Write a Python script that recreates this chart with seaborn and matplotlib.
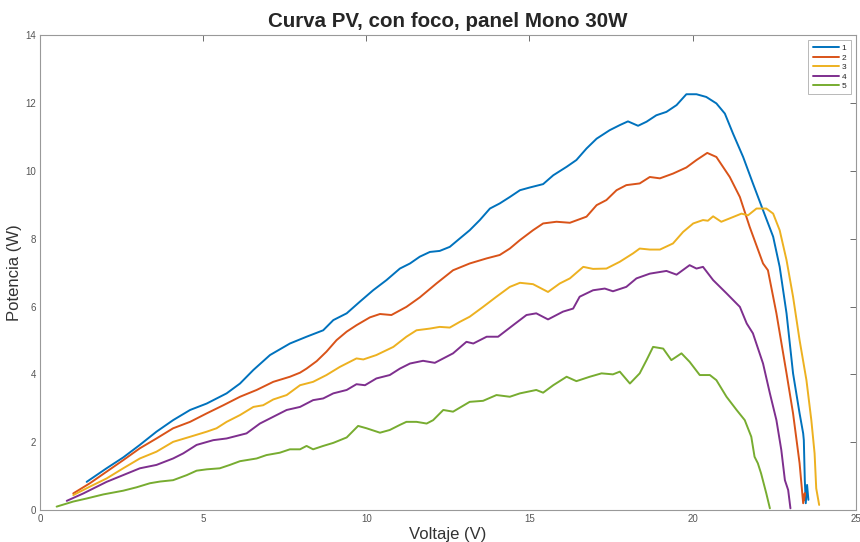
import pandas as pd
import numpy as np
import matplotlib
matplotlib.use("Agg")
import matplotlib.pyplot as plt
import seaborn as sns

# Curve values (voltage V, power W)
v1 = [1.43, 2.04, 2.55, 3.06, 3.57, 4.08, 4.60, 5.11, 5.72, 6.13, 6.54, 7.05, 7.66, 8.17, 8.68, 8.99,
      9.40, 9.80, 10.21, 10.62, 11.03, 11.34, 11.64, 11.95, 12.25, 12.56, 12.87, 13.17, 13.48, 13.79,
      14.09, 14.40, 14.71, 15.01, 15.42, 15.73, 16.14, 16.44, 16.75, 17.06, 17.46, 17.77, 18.02, 18.33,
      18.59, 18.89, 19.20, 19.51, 19.81, 20.12, 20.42, 20.73, 20.99, 21.24, 21.55, 21.85, 22.16, 22.47,
      22.67, 22.88, 23.08, 23.28, 23.39, 23.41, 23.44, 23.47, 23.51, 23.55]
p1 = [0.83, 1.23, 1.55, 1.92, 2.31, 2.65, 2.95, 3.14, 3.44, 3.73, 4.13, 4.57, 4.91, 5.11, 5.30, 5.60,
      5.80, 6.14, 6.48, 6.78, 7.12, 7.27, 7.47, 7.61, 7.64, 7.76, 8.01, 8.25, 8.55, 8.89,
      9.04, 9.23, 9.43, 9.51, 9.61, 9.87, 10.12, 10.32, 10.66, 10.95, 11.20, 11.35, 11.46, 11.33,
      11.45, 11.64, 11.74, 11.94, 12.26, 12.26, 12.18, 11.99, 11.69, 11.10, 10.41, 9.63, 8.84, 8.06,
      7.17, 5.80, 4.03, 2.85, 2.26, 2.06, 0.88, 0.20, 0.74, 0.30]

v2 = [1.02, 1.53, 2.04, 2.55, 3.06, 3.57, 4.08, 4.60, 5.11, 5.62, 6.13, 6.64, 7.15, 7.66, 7.97, 8.17,
      8.48, 8.78, 9.09, 9.40, 9.70, 10.11, 10.42, 10.77, 11.23, 11.64, 12.15, 12.66, 13.17, 13.69,
      14.09, 14.40, 14.71, 15.11, 15.42, 15.83, 16.24, 16.75, 17.06, 17.36, 17.67, 17.97, 18.38, 18.69,
      19.00, 19.40, 19.81, 20.12, 20.45, 20.73, 21.14, 21.45, 21.75, 22.16, 22.31, 22.57, 22.88, 23.08,
      23.28, 23.39, 23.44, 23.42]
p2 = [0.49, 0.79, 1.13, 1.47, 1.82, 2.11, 2.41, 2.60, 2.85, 3.09, 3.34, 3.54, 3.78, 3.93, 4.05, 4.17,
      4.39, 4.67, 5.01, 5.26, 5.45, 5.68, 5.78, 5.75, 5.99, 6.27, 6.68, 7.07, 7.27, 7.42,
      7.52, 7.71, 7.96, 8.25, 8.45, 8.50, 8.47, 8.65, 8.99, 9.14, 9.43, 9.58, 9.63, 9.82,
      9.78, 9.92, 10.10, 10.32, 10.53, 10.41, 9.82, 9.23, 8.35, 7.27, 7.07, 5.80, 4.03, 2.85,
      1.38, 0.20, 0.50, 0.30]

v3 = [1.02, 1.53, 2.04, 2.55, 3.06, 3.57, 4.08, 4.60, 5.11, 5.41, 5.72, 6.13, 6.54, 6.84, 7.15, 7.56,
      7.97, 8.37, 8.78, 9.19, 9.70, 9.91, 10.31, 10.83, 11.23, 11.54, 11.95, 12.25, 12.56, 12.87,
      13.17, 13.58, 13.99, 14.40, 14.71, 15.11, 15.57, 15.93, 16.24, 16.65, 16.95, 17.36, 17.77, 18.18,
      18.38, 18.69, 19.00, 19.40, 19.71, 20.02, 20.32, 20.47, 20.63, 20.88, 21.14, 21.50, 21.70, 21.96,
      22.26, 22.47, 22.67, 22.88, 23.08, 23.28, 23.49, 23.64, 23.74, 23.79, 23.88]
p3 = [0.44, 0.69, 0.93, 1.23, 1.52, 1.72, 2.01, 2.16, 2.31, 2.41, 2.60, 2.80, 3.04, 3.09, 3.26, 3.39,
      3.68, 3.78, 3.98, 4.22, 4.47, 4.44, 4.57, 4.81, 5.11, 5.30, 5.35, 5.40, 5.38, 5.55,
      5.70, 5.99, 6.29, 6.58, 6.70, 6.66, 6.43, 6.68, 6.83, 7.17, 7.11, 7.12, 7.32, 7.57,
      7.71, 7.68, 7.68, 7.86, 8.20, 8.45, 8.55, 8.53, 8.66, 8.50, 8.60, 8.74, 8.69, 8.89,
      8.89, 8.74, 8.25, 7.37, 6.29, 5.01, 3.83, 2.65, 1.67, 0.64, 0.15]

v4 = [0.82, 1.33, 2.04, 2.55, 3.06, 3.57, 4.08, 4.39, 4.80, 5.31, 5.72, 6.33, 6.74, 7.15, 7.56, 7.97,
      8.37, 8.68, 8.99, 9.40, 9.70, 9.96, 10.31, 10.72, 11.03, 11.34, 11.74, 12.10, 12.36, 12.66,
      13.07, 13.28, 13.69, 14.04, 14.50, 14.91, 15.21, 15.57, 16.03, 16.34, 16.54, 16.95, 17.31, 17.56,
      17.97, 18.28, 18.69, 19.20, 19.51, 19.91, 20.12, 20.32, 20.63, 21.04, 21.45, 21.66, 21.85, 22.16,
      22.37, 22.57, 22.72, 22.83, 22.93, 23.00]
p4 = [0.27, 0.49, 0.83, 1.03, 1.23, 1.33, 1.52, 1.67, 1.92, 2.06, 2.11, 2.26, 2.55, 2.75, 2.95, 3.04,
      3.24, 3.29, 3.44, 3.54, 3.71, 3.68, 3.88, 3.98, 4.17, 4.32, 4.40, 4.34, 4.47, 4.62,
      4.96, 4.91, 5.11, 5.11, 5.45, 5.75, 5.80, 5.62, 5.85, 5.94, 6.29, 6.48, 6.53, 6.45,
      6.58, 6.83, 6.97, 7.05, 6.94, 7.22, 7.12, 7.17, 6.78, 6.39, 5.99, 5.50, 5.21, 4.32,
      3.44, 2.65, 1.77, 0.88, 0.59, 0.05]

v5 = [0.51, 1.02, 1.43, 1.94, 2.55, 2.96, 3.37, 3.68, 4.08, 4.50, 4.80, 5.11, 5.51, 5.82, 6.13, 6.64,
      6.94, 7.35, 7.66, 7.97, 8.17, 8.37, 8.68, 8.99, 9.40, 9.75, 10.01, 10.42, 10.72, 11.03,
      11.23, 11.54, 11.85, 12.05, 12.36, 12.66, 13.17, 13.58, 13.99, 14.40, 14.71, 15.21, 15.42, 15.73,
      16.14, 16.44, 16.85, 17.21, 17.56, 17.77, 18.08, 18.38, 18.59, 18.79, 19.10, 19.35, 19.66, 19.91,
      20.22, 20.53, 20.73, 21.04, 21.35, 21.60, 21.80, 21.90, 22.00, 22.10, 22.26, 22.37]
p5 = [0.10, 0.25, 0.34, 0.46, 0.57, 0.67, 0.79, 0.84, 0.88, 1.03, 1.16, 1.20, 1.23, 1.33, 1.44, 1.52,
      1.62, 1.69, 1.79, 1.79, 1.89, 1.79, 1.89, 1.98, 2.14, 2.48, 2.41, 2.28, 2.36, 2.51,
      2.60, 2.60, 2.55, 2.65, 2.95, 2.90, 3.19, 3.22, 3.39, 3.34, 3.44, 3.54, 3.46, 3.68,
      3.93, 3.80, 3.93, 4.03, 4.00, 4.08, 3.73, 4.03, 4.42, 4.81, 4.76, 4.42, 4.62, 4.37,
      3.98, 3.98, 3.83, 3.34, 2.95, 2.65, 2.16, 1.57, 1.38, 1.08, 0.49, 0.05]

series_names = ["1", "2", "3", "4", "5"]
colors = ["#0072BD", "#D95319", "#EDB120", "#7E2F8E", "#77AC30"]

frames = []
for name, v, p in zip(series_names, [v1, v2, v3, v4, v5], [p1, p2, p3, p4, p5]):
    frames.append(pd.DataFrame({"Voltaje": v, "Potencia": p, "curva": name}))
df = pd.concat(frames, ignore_index=True)

sns.set_style("white")
plt.rcParams["font.family"] = ["Liberation Sans", "DejaVu Sans"]

fig = plt.figure(figsize=(8.6, 5.42), dpi=100)
ax = fig.add_axes([0.0465, 0.059, 0.9485, 0.876])

sns.lineplot(data=df, x="Voltaje", y="Potencia", hue="curva", palette=colors,
             sort=False, estimator=None, linewidth=1.4, ax=ax)

ax.set_xlim(0, 25)
ax.set_ylim(0, 14)
ax.set_xticks([0, 5, 10, 15, 20, 25])
ax.set_yticks(np.arange(0, 15, 2))
ax.tick_params(direction="in", length=4, width=0.6, labelsize=7, colors="#555555",
               top=True, right=True, pad=3)
for s in ax.spines.values():
    s.set_color("#999999")
    s.set_linewidth(0.8)

ax.set_title("Curva PV, con foco, panel Mono 30W", fontsize=14.8, fontweight="bold", pad=6)
ax.set_xlabel("Voltaje (V)", fontsize=12, color="#333333", labelpad=2)
ax.set_ylabel("Potencia (W)", fontsize=12, color="#333333", labelpad=2)

leg = ax.legend(loc="upper right", fontsize=6, handlelength=3.2, handletextpad=0.3,
                frameon=True, fancybox=False, borderpad=0.5, labelspacing=0.2,
                borderaxespad=0.6)
leg.get_frame().set_edgecolor("#999999")
leg.get_frame().set_linewidth(0.6)

fig.savefig("out.png", dpi=100)
